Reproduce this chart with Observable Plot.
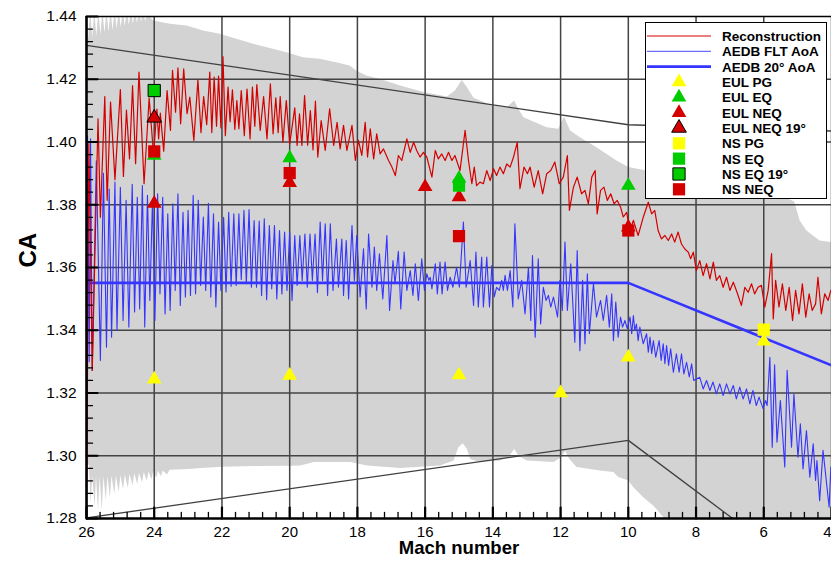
<!DOCTYPE html>
<html><head><meta charset="utf-8">
<script src="https://cdn.jsdelivr.net/npm/d3@7"></script>
<script src="https://cdn.jsdelivr.net/npm/@observablehq/plot@0.6"></script>
<style>html,body{margin:0;padding:0;background:#fff;}</style>
</head><body>
<div id="chart"></div>
<script>
// ---------- data (Mach, CA) ----------
const xMajor = [26, 24, 22, 20, 18, 16, 14, 12, 10, 8, 6, 4];
const yMajor = [1.28, 1.30, 1.32, 1.34, 1.36, 1.38, 1.40, 1.42, 1.44];

const reconstruction = [
[26.00,1.2750],[25.93,1.3995],[25.83,1.3272],[25.66,1.4074],[25.59,1.3760],[25.46,1.4145],[25.39,1.3814],[25.29,1.4127],
[25.16,1.3880],[25.00,1.4167],[24.91,1.3890],[24.82,1.4102],[24.73,1.3946],[24.64,1.4180],[24.55,1.3931],[24.45,1.4223],
[24.30,1.3867],[24.15,1.4140],[24.02,1.3960],[23.92,1.4105],[23.87,1.4010],[23.82,1.4092],[23.72,1.3971],[23.62,1.4164],
[23.52,1.4037],[23.46,1.4228],[23.37,1.4095],[23.30,1.4236],[23.22,1.4058],[23.13,1.4233],[23.03,1.4090],[22.95,1.4143],
[22.83,1.4005],[22.71,1.4198],[22.62,1.4030],[22.54,1.4145],[22.45,1.4055],[22.36,1.4223],[22.30,1.4030],[22.23,1.4207],
[22.16,1.4050],[22.10,1.4210],[22.03,1.4045],[21.97,1.4272],[21.90,1.4020],[21.82,1.4175],[21.76,1.4065],[21.69,1.4166],
[21.62,1.4040],[21.56,1.4132],[21.50,1.4042],[21.43,1.4164],[21.34,1.4020],[21.26,1.4169],[21.17,1.4010],[21.10,1.4175],
[21.03,1.4050],[20.97,1.4183],[20.87,1.4037],[20.77,1.4145],[20.67,1.4010],[20.57,1.4185],[20.49,1.4026],[20.41,1.4141],
[20.34,1.4030],[20.28,1.4145],[20.20,1.3999],[20.10,1.4132],[20.00,1.3994],[19.85,1.4109],[19.78,1.3989],[19.71,1.4090],
[19.64,1.3989],[19.56,1.4148],[19.47,1.3990],[19.39,1.4100],[19.31,1.3975],[19.24,1.4130],[19.17,1.3952],[19.07,1.4068],
[18.95,1.3973],[18.82,1.4106],[18.70,1.3989],[18.60,1.4063],[18.51,1.3978],[18.41,1.4053],[18.31,1.3973],[18.16,1.4053],
[18.06,1.3941],[17.97,1.4005],[17.87,1.3957],[17.77,1.4063],[17.70,1.3952],[17.62,1.4042],[17.52,1.3946],[17.43,1.4026],
[17.33,1.3962],[17.23,1.3978],[17.08,1.3941],[16.98,1.3920],[16.88,1.3893],[16.79,1.3957],[16.69,1.3941],[16.54,1.4010],
[16.44,1.3967],[16.34,1.3999],[16.25,1.3973],[16.15,1.3952],[16.05,1.3967],[15.95,1.3952],[15.80,1.3888],[15.70,1.3973],
[15.61,1.3946],[15.51,1.3962],[15.41,1.3941],[15.31,1.3967],[15.21,1.3941],[15.12,1.3957],[14.97,1.3909],[14.82,1.4037],
[14.72,1.3941],[14.62,1.3867],[14.55,1.3920],[14.48,1.3861],[14.38,1.3872],[14.28,1.3867],[14.18,1.3909],[14.08,1.3877],
[13.98,1.3915],[13.89,1.3893],[13.79,1.3920],[13.69,1.3899],[13.59,1.3930],[13.49,1.3920],[13.39,1.3952],[13.28,1.3999],
[13.20,1.3851],[13.08,1.3920],[12.98,1.3899],[12.90,1.3920],[12.78,1.3856],[12.66,1.3909],[12.53,1.3835],[12.41,1.3899],
[12.29,1.3909],[12.17,1.3936],[12.04,1.3867],[11.92,1.3888],[11.80,1.3957],[11.74,1.3782],[11.62,1.3856],[11.51,1.3888],
[11.38,1.3835],[11.28,1.3846],[11.18,1.3803],[11.08,1.3888],[10.98,1.3909],[10.92,1.3771],[10.82,1.3846],[10.72,1.3856],
[10.62,1.3814],[10.52,1.3835],[10.42,1.3803],[10.33,1.3814],[10.23,1.3793],[10.15,1.3761],[10.05,1.3776],[9.95,1.3718],
[9.85,1.3750],[9.71,1.3702],[9.56,1.3760],[9.41,1.3808],[9.31,1.3771],[9.22,1.3782],[9.12,1.3718],[9.02,1.3691],
[8.92,1.3702],[8.82,1.3686],[8.72,1.3707],[8.63,1.3681],[8.53,1.3713],[8.43,1.3675],[8.33,1.3659],[8.23,1.3649],
[8.16,1.3628],[8.08,1.3649],[7.99,1.3590],[7.89,1.3622],[7.79,1.3574],[7.69,1.3612],[7.59,1.3564],[7.49,1.3617],
[7.40,1.3559],[7.30,1.3574],[7.20,1.3537],[7.10,1.3569],[7.00,1.3527],[6.90,1.3553],[6.79,1.3521],[6.66,1.3479],
[6.56,1.3537],[6.46,1.3521],[6.36,1.3548],[6.27,1.3516],[6.17,1.3537],[6.07,1.3543],[5.97,1.3474],[5.87,1.3527],
[5.77,1.3644],[5.72,1.3436],[5.65,1.3559],[5.55,1.3474],[5.45,1.3548],[5.35,1.3463],[5.25,1.3537],[5.15,1.3431],
[5.06,1.3527],[4.96,1.3452],[4.86,1.3548],[4.76,1.3442],[4.66,1.3516],[4.57,1.3463],[4.47,1.3484],[4.40,1.3569],
[4.30,1.3452],[4.20,1.3516],[4.10,1.3495],[4.02,1.3527]
];

const aedbFlt = [
[26.00,1.3450],[25.97,1.4020],[25.92,1.3300],[25.88,1.4010],[25.83,1.3272],[25.71,1.3940],[25.59,1.3304],[25.50,1.3900],
[25.41,1.3346],[25.33,1.3850],[25.26,1.3378],[25.16,1.3872],[25.10,1.3399],[25.00,1.3856],[24.92,1.3431],[24.83,1.3814],
[24.75,1.3410],[24.65,1.3865],[24.58,1.3458],[24.50,1.3824],[24.43,1.3468],[24.35,1.3861],[24.28,1.3410],[24.20,1.3830],
[24.13,1.3495],[24.05,1.3819],[23.98,1.3431],[23.90,1.3835],[23.83,1.3516],[23.75,1.3824],[23.68,1.3452],[23.60,1.3771],
[23.53,1.3463],[23.45,1.3803],[23.38,1.3527],[23.30,1.3835],[23.23,1.3479],[23.15,1.3776],[23.08,1.3506],[23.00,1.3782],
[22.93,1.3511],[22.85,1.3830],[22.78,1.3516],[22.70,1.3814],[22.63,1.3543],[22.55,1.3761],[22.48,1.3527],[22.40,1.3805],
[22.33,1.3506],[22.25,1.3771],[22.18,1.3474],[22.10,1.3745],[22.03,1.3527],[21.95,1.3760],[21.88,1.3522],[21.80,1.3776],
[21.73,1.3540],[21.65,1.3771],[21.58,1.3543],[21.50,1.3771],[21.43,1.3562],[21.35,1.3782],[21.28,1.3548],[21.20,1.3785],
[21.13,1.3537],[21.05,1.3750],[20.98,1.3537],[20.90,1.3748],[20.83,1.3511],[20.75,1.3755],[20.68,1.3497],[20.60,1.3734],
[20.53,1.3532],[20.45,1.3734],[20.38,1.3500],[20.30,1.3718],[20.23,1.3516],[20.15,1.3713],[20.08,1.3527],[20.00,1.3713],
[19.93,1.3495],[19.85,1.3702],[19.78,1.3543],[19.70,1.3702],[19.63,1.3559],[19.55,1.3707],[19.48,1.3537],[19.40,1.3707],
[19.33,1.3559],[19.25,1.3707],[19.18,1.3520],[19.10,1.3745],[19.03,1.3559],[18.95,1.3739],[18.88,1.3511],[18.80,1.3739],
[18.72,1.3527],[18.62,1.3691],[18.56,1.3537],[18.46,1.3691],[18.41,1.3511],[18.33,1.3686],[18.26,1.3500],[18.16,1.3734],
[18.09,1.3559],[18.02,1.3702],[17.92,1.3506],[17.82,1.3660],[17.74,1.3468],[17.67,1.3707],[17.57,1.3537],[17.50,1.3665],
[17.43,1.3527],[17.35,1.3644],[17.25,1.3500],[17.13,1.3702],[17.05,1.3463],[16.95,1.3622],[16.89,1.3548],[16.79,1.3652],
[16.72,1.3468],[16.62,1.3649],[16.54,1.3527],[16.44,1.3590],[16.36,1.3511],[16.29,1.3612],[16.20,1.3495],[16.10,1.3628],
[16.02,1.3527],[15.95,1.3580],[15.89,1.3559],[15.85,1.3569],[15.80,1.3532],[15.70,1.3612],[15.64,1.3516],[15.56,1.3617],
[15.50,1.3516],[15.41,1.3617],[15.34,1.3527],[15.26,1.3569],[15.18,1.3537],[15.07,1.3601],[14.99,1.3537],[14.87,1.3745],
[14.79,1.3537],[14.67,1.3622],[14.57,1.3479],[14.50,1.3649],[14.43,1.3474],[14.33,1.3633],[14.28,1.3474],[14.18,1.3633],
[14.10,1.3474],[14.03,1.3606],[13.96,1.3506],[13.89,1.3537],[13.81,1.3527],[13.74,1.3559],[13.69,1.3527],[13.64,1.3575],
[13.57,1.3527],[13.49,1.3590],[13.41,1.3474],[13.35,1.3739],[13.25,1.3500],[13.15,1.3559],[13.05,1.3452],[12.95,1.3601],
[12.88,1.3431],[12.83,1.3638],[12.75,1.3378],[12.66,1.3628],[12.59,1.3420],[12.51,1.3537],[12.43,1.3495],[12.36,1.3511],
[12.29,1.3474],[12.21,1.3506],[12.09,1.3442],[12.02,1.3559],[11.95,1.3463],[11.87,1.3681],[11.80,1.3463],[11.70,1.3612],
[11.58,1.3362],[11.51,1.3654],[11.43,1.3335],[11.35,1.3559],[11.28,1.3357],[11.21,1.3580],[11.15,1.3389],[11.03,1.3548],
[10.94,1.3442],[10.82,1.3495],[10.74,1.3431],[10.64,1.3511],[10.56,1.3410],[10.49,1.3516],[10.44,1.3367],[10.37,1.3490],
[10.30,1.3378],[10.23,1.3442],[10.17,1.3410],[10.10,1.3431],[10.03,1.3405],[9.95,1.3442],[9.90,1.3389],[9.85,1.3447],
[9.81,1.3399],[9.76,1.3420],[9.71,1.3367],[9.66,1.3410],[9.56,1.3357],[9.46,1.3389],[9.41,1.3330],[9.36,1.3378],
[9.31,1.3325],[9.26,1.3367],[9.19,1.3314],[9.09,1.3367],[9.03,1.3304],[8.97,1.3357],[8.92,1.3293],[8.87,1.3351],
[8.81,1.3288],[8.75,1.3341],[8.67,1.3266],[8.58,1.3325],[8.50,1.3266],[8.43,1.3325],[8.36,1.3261],[8.28,1.3298],
[8.20,1.3251],[8.13,1.3293],[8.07,1.3240],[7.89,1.3250],[7.79,1.3213],[7.69,1.3240],[7.59,1.3208],[7.50,1.3235],
[7.40,1.3197],[7.30,1.3229],[7.20,1.3192],[7.10,1.3229],[7.00,1.3197],[6.90,1.3224],[6.81,1.3181],[6.71,1.3219],
[6.61,1.3181],[6.51,1.3213],[6.41,1.3165],[6.32,1.3208],[6.22,1.3160],[6.14,1.3187],[6.02,1.3150],[5.95,1.3176],
[5.90,1.3160],[5.82,1.3314],[5.75,1.3027],[5.68,1.3290],[5.61,1.3043],[5.51,1.3176],[5.38,1.2964],[5.31,1.3272],
[5.18,1.3027],[5.11,1.3197],[4.99,1.2995],[4.92,1.3102],[4.84,1.2958],[4.74,1.3080],[4.64,1.2932],[4.54,1.3038],
[4.47,1.2921],[4.43,1.2985],[4.35,1.2857],[4.25,1.3017],[4.07,1.2836],[4.02,1.2964],[3.97,1.2850]
];

const aedb20 = [[26, 1.3551], [10, 1.3551], [4, 1.3288]];
const envUpper = [[26, 1.4308], [10, 1.4055], [4, 1.4035]];
const envLower = [[26, 1.2802], [10, 1.3049], [4, 1.2564]];

const bandTop = [
[26.00,1.4420],[25.95,1.4330],[25.89,1.4420],[25.83,1.4333],[25.77,1.4420],[25.71,1.4338],[25.65,1.4420],[25.59,1.4343],
[25.53,1.4420],[25.47,1.4348],[25.41,1.4420],[25.35,1.4352],[25.29,1.4420],[25.23,1.4356],[25.17,1.4420],[25.11,1.4362],
[25.05,1.4420],[24.99,1.4366],[24.93,1.4420],[24.87,1.4370],[24.81,1.4420],[24.75,1.4374],[24.69,1.4420],[24.63,1.4377],
[24.57,1.4420],[24.51,1.4380],[24.45,1.4420],[24.39,1.4383],[24.33,1.4420],[24.27,1.4385],[24.21,1.4410],[24.03,1.4387],
[23.54,1.4377],[23.05,1.4371],[22.56,1.4355],[22.07,1.4345],[21.58,1.4329],[21.08,1.4313],[20.59,1.4300],[20.10,1.4286],
[19.61,1.4270],[19.12,1.4265],[18.63,1.4254],[18.23,1.4244],[18.04,1.4228],[17.74,1.4212],[17.33,1.4201],[16.74,1.4180],
[16.05,1.4159],[15.36,1.4145],[15.12,1.4164],[14.92,1.4198],[14.77,1.4175],[14.57,1.4141],[14.03,1.4116],[13.59,1.4111],
[13.37,1.4132],[13.25,1.4106],[13.10,1.4079],[12.41,1.4047],[12.07,1.4042],[11.90,1.4081],[11.72,1.4037],[11.43,1.4015],
[10.94,1.3983],[10.35,1.3941],[10.00,1.3920],[9.50,1.3910],[8.00,1.3880],[7.00,1.3860],[6.00,1.3845],[5.50,1.3830],
[5.10,1.3810],[5.04,1.3787],[4.94,1.3750],[4.74,1.3718],[4.55,1.3702],[4.35,1.3686],[4.02,1.3681],[3.95,1.3680]
];
const bandBottom = [
[26.00,1.2970],[25.93,1.2972],[25.88,1.2850],[25.83,1.2935],[25.76,1.2840],[25.72,1.2935],[25.66,1.2826],[25.61,1.2935],
[25.55,1.2826],[25.50,1.2935],[25.43,1.2860],[25.38,1.2935],[25.31,1.2868],[25.26,1.2936],[25.18,1.2878],[25.13,1.2937],
[25.05,1.2885],[25.00,1.2938],[24.92,1.2893],[24.87,1.2940],[24.78,1.2898],[24.73,1.2942],[24.64,1.2905],[24.59,1.2944],
[24.50,1.2910],[24.45,1.2946],[24.36,1.2915],[24.31,1.2948],[24.22,1.2920],[24.17,1.2950],[24.08,1.2925],[24.03,1.2951],
[23.94,1.2930],[23.89,1.2952],[23.80,1.2935],[23.75,1.2953],[23.62,1.2940],[23.55,1.2955],[23.00,1.2958],[22.50,1.2962],
[22.00,1.2965],[21.00,1.2967],[20.00,1.2968],[19.69,1.2969],[19.29,1.2980],[18.21,1.2980],[17.72,1.2969],[16.74,1.2961],
[15.56,1.2969],[15.16,1.2985],[15.02,1.3027],[14.89,1.3040],[14.77,1.3022],[14.67,1.2990],[14.38,1.2980],[13.79,1.2985],
[13.54,1.2995],[13.37,1.3022],[13.25,1.3001],[13.00,1.2985],[12.21,1.2980],[11.97,1.2996],[11.87,1.3015],[11.74,1.2990],
[11.53,1.2964],[11.13,1.2958],[10.84,1.2953],[10.44,1.2948],[10.30,1.2932],[10.00,1.2921],[9.85,1.2900],[9.56,1.2868],
[9.26,1.2841],[8.92,1.2799],[8.50,1.2750],[3.95,1.2700]
];

const eulPG    = [[24,1.3244],[20,1.3256],[15,1.3257],[12,1.3200],[10,1.3314],[6,1.3365]];
const eulEQ    = [[24,1.3957],[20,1.3949],[15,1.3884],[10,1.3861]];
const eulNEQ   = [[24,1.3804],[20,1.3870],[16,1.3857],[15,1.3825],[10,1.3728]];
const eulNEQ19 = [[24,1.4077]];
const nsPG     = [[6,1.3402]];
const nsEQ     = [[15,1.3861]];
const nsEQ19   = [[24,1.4164]];
const nsNEQ    = [[24,1.3970],[20,1.3901],[15,1.3700],[10,1.3718]];

const legendLabels = ["Reconstruction","AEDB FLT AoA","AEDB 20° AoA","EUL PG","EUL EQ","EUL NEQ","EUL NEQ 19°","NS PG","NS EQ","NS EQ 19°","NS NEQ"];

// ---------- styles ----------
const RED_LINE = "#d40000", BLUE = "#3535ff", GRID = "#444444";
const YEL = "#ffff00", GRN = "#00cc00", RED = "#d40000";
const TRI_R = 5.45, SQ_R = 6.9;
const FONT = "'Liberation Sans', Arial, sans-serif";

const tickUp = {draw(ctx, l) { ctx.moveTo(0, 0); ctx.lineTo(0, -l); }};
const tickRight = {draw(ctx, l) { ctx.moveTo(0, 0); ctx.lineTo(l, 0); }};
const xMinor = d3.range(26, 3.99, -0.4).filter(v => Math.abs(v / 2 - Math.round(v / 2)) > 0.01);
const yMinor = d3.range(1.28, 1.4401, 0.004).filter(v => Math.abs(v * 50 - Math.round(v * 50)) > 0.01);

// closed outline of the grey band: upper edge (high → low Mach), then lower edge back
const bandOutline = bandTop.concat(bandBottom.slice().reverse());

const dots = (data, symbol, fill, r, stroke) => Plot.dot(data, {
  x: d => d[0], y: d => d[1], symbol, fill, r, stroke: stroke || "none", strokeWidth: stroke ? 1 : 0
});

const chart = Plot.plot({
  width: 831, height: 561,
  marginLeft: 86, marginRight: 0, marginTop: 16, marginBottom: 43,
  x: {domain: [26, 4], axis: null},
  y: {domain: [1.28, 1.44], axis: null},
  style: {fontFamily: FONT, fontSize: "16px", background: "#fff", color: "#000"},
  marks: [
    Plot.line(bandOutline, {x: d => d[0], y: d => d[1], fill: "#d3d3d3", stroke: "none", clip: true}),
    Plot.ruleX(xMajor.slice(1), {x: d => d, stroke: GRID, strokeWidth: 1.5}),
    Plot.ruleY(yMajor.slice(1, -1), {y: d => d, stroke: GRID, strokeWidth: 1.5}),
    Plot.line(envUpper, {x: d => d[0], y: d => d[1], stroke: "#404040", strokeWidth: 1.3, clip: true}),
    Plot.line(envLower, {x: d => d[0], y: d => d[1], stroke: "#404040", strokeWidth: 1.3, clip: true}),
    Plot.line(aedbFlt, {x: d => d[0], y: d => d[1], stroke: BLUE, strokeWidth: 1.1, clip: true}),
    Plot.line(aedb20, {x: d => d[0], y: d => d[1], stroke: BLUE, strokeWidth: 2.6, clip: true}),
    Plot.line(reconstruction, {x: d => d[0], y: d => d[1], stroke: RED_LINE, strokeWidth: 1.2, clip: true}),
    dots(eulPG, "triangle", YEL, TRI_R),
    dots(eulEQ, "triangle", GRN, TRI_R),
    dots(eulNEQ, "triangle", RED, TRI_R),
    dots(eulNEQ19, "triangle", RED, TRI_R, "#000"),
    dots(nsPG, "square", YEL, SQ_R),
    dots(nsEQ, "square", GRN, SQ_R),
    dots(nsEQ19, "square", GRN, SQ_R, "#000"),
    dots(nsNEQ, "square", RED, SQ_R),
    // frame
    Plot.ruleY([1.44], {stroke: "#000", strokeWidth: 1.6}),
    Plot.ruleX([26], {stroke: "#000", strokeWidth: 2.6}),
    Plot.ruleY([1.28], {stroke: "#000", strokeWidth: 2.6}),
    // inward ticks
    Plot.vector(xMinor, {x: d => d, frameAnchor: "bottom", length: 6, anchor: "start", shape: tickUp, stroke: "#000", strokeWidth: 1.3}),
    Plot.vector(xMajor, {x: d => d, frameAnchor: "bottom", length: 11, anchor: "start", shape: tickUp, stroke: "#000", strokeWidth: 2.2}),
    Plot.vector(yMinor, {y: d => d, frameAnchor: "left", length: 6, anchor: "start", shape: tickRight, stroke: "#000", strokeWidth: 1.3}),
    Plot.vector(yMajor, {y: d => d, frameAnchor: "left", length: 11, anchor: "start", shape: tickRight, stroke: "#000", strokeWidth: 2.2}),
    Plot.axisX({ticks: xMajor.slice(0, -1), tickSize: 0, tickPadding: 7.4, fontSize: 15, tickFormat: d => String(d), label: null}),
    Plot.axisX({ticks: xMajor.slice(-1), tickSize: 0, tickPadding: 7.4, fontSize: 15, tickFormat: d => String(d), textAnchor: "end", label: null}),
    Plot.axisY({ticks: yMajor, tickSize: 0, tickPadding: 10, fontSize: 15.5, tickFormat: d3.format(".2f"), label: null}),
    Plot.text(["Mach number"], {frameAnchor: "bottom", dy: 35, fontSize: 18.5, fontWeight: "bold", text: d => d}),
    Plot.text(["CA"], {frameAnchor: "left", dx: -58, rotate: -90, fontSize: 24, fontWeight: "bold", text: d => d})
  ]
});

// ---------- legend ----------
const svg = d3.select(chart);
const lg = svg.append("g").attr("font-family", FONT).attr("text-anchor", "start");
lg.append("rect").attr("x", 645.5).attr("y", 22.5).attr("width", 181).attr("height", 176)
  .attr("fill", "#fff").attr("stroke", "#000").attr("stroke-width", 1);
const legendStyle = [
  {line: RED_LINE, w: 1.2},
  {line: "#6e6eff", w: 1.3},
  {line: BLUE, w: 2.6},
  {sym: d3.symbolTriangle, fill: YEL, r: TRI_R},
  {sym: d3.symbolTriangle, fill: GRN, r: TRI_R},
  {sym: d3.symbolTriangle, fill: RED, r: TRI_R},
  {sym: d3.symbolTriangle, fill: RED, r: TRI_R, stroke: "#000"},
  {sym: d3.symbolSquare, fill: YEL, r: SQ_R},
  {sym: d3.symbolSquare, fill: GRN, r: SQ_R},
  {sym: d3.symbolSquare, fill: GRN, r: SQ_R, stroke: "#000"},
  {sym: d3.symbolSquare, fill: RED, r: SQ_R}
];
legendLabels.forEach((label, i) => {
  const y = 36 + 15.33 * i, s = legendStyle[i];
  if (s.line) {
    lg.append("line").attr("x1", 647).attr("x2", 711).attr("y1", y).attr("y2", y)
      .attr("stroke", s.line).attr("stroke-width", s.w);
  } else {
    lg.append("path").attr("transform", `translate(679,${y})`)
      .attr("d", d3.symbol(s.sym, s.r * s.r * Math.PI)())
      .attr("fill", s.fill).attr("stroke", s.stroke || "none").attr("stroke-width", 1);
  }
  lg.append("text").attr("x", 722).attr("y", y).attr("dy", "0.36em").attr("text-anchor", "start")
    .attr("font-size", 13.5).attr("font-weight", "bold").attr("fill", "#000").text(label);
});

document.getElementById("chart").appendChild(chart);
</script>
</body></html>
